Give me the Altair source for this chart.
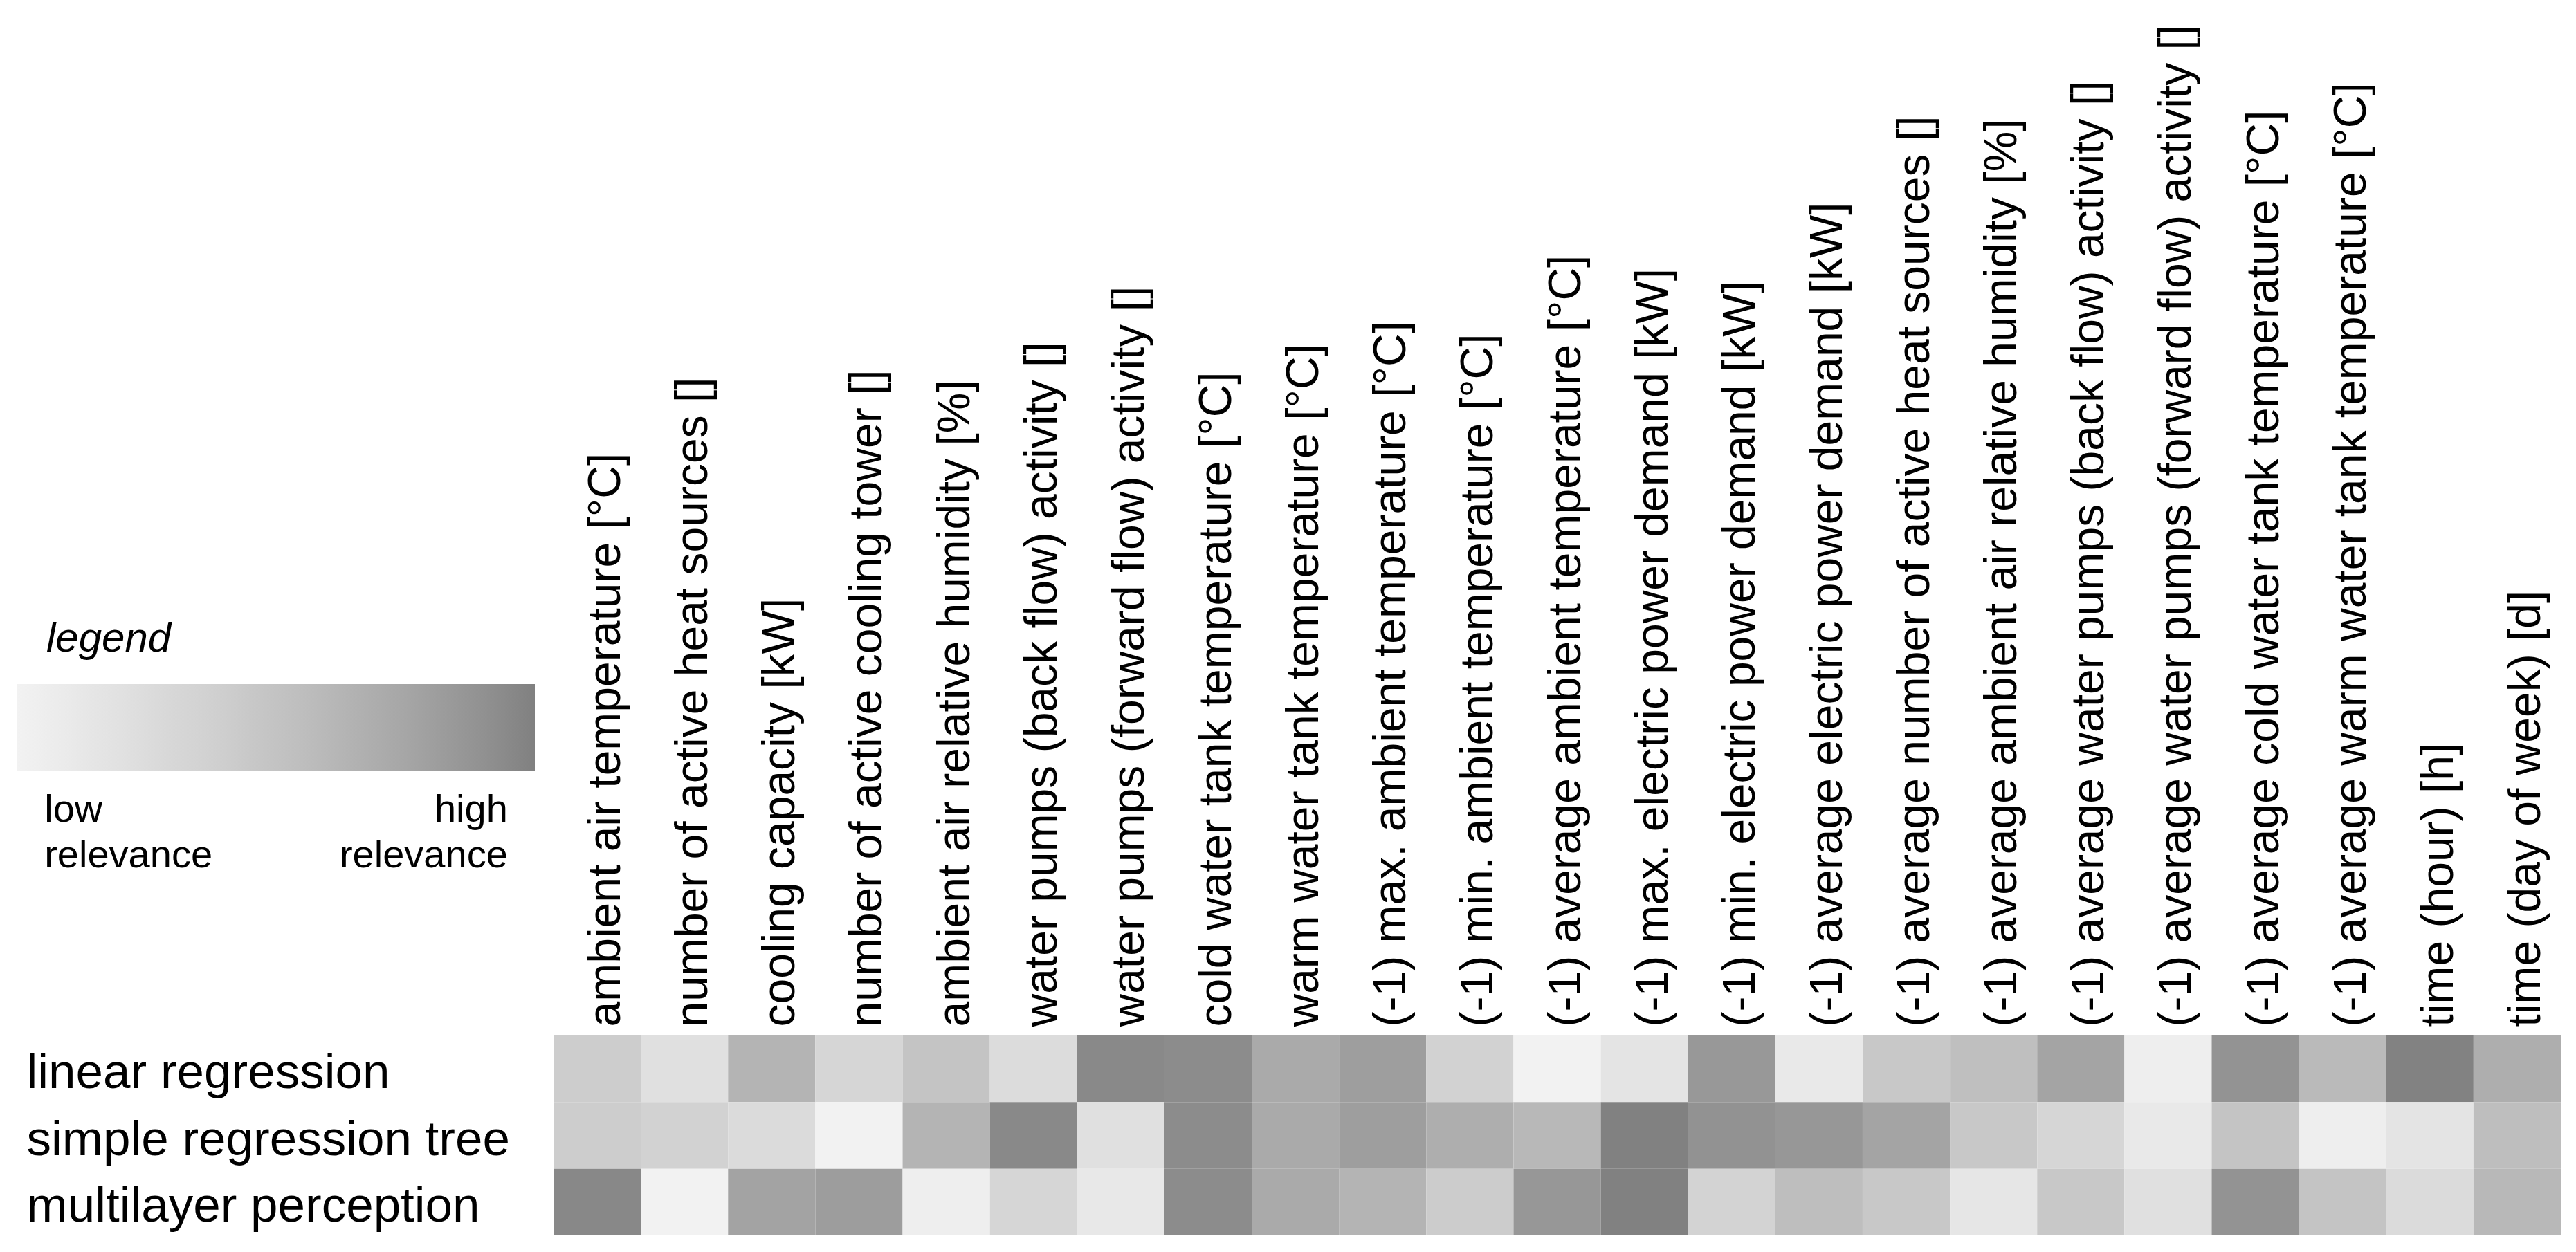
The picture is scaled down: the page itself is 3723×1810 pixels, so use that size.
import altair as alt
import pandas as pd

features = [
    "ambient air temperature [°C]",
    "number of active heat sources []",
    "cooling capacity [kW]",
    "number of active cooling tower []",
    "ambient air relative humidity [%]",
    "water pumps (back flow) activity []",
    "water pumps (forward flow) activity []",
    "cold water tank temperature [°C]",
    "warm water tank temperature [°C]",
    "(-1) max. ambient temperature [°C]",
    "(-1) min. ambient temperature [°C]",
    "(-1) average ambient temperature [°C]",
    "(-1) max. electric power demand [kW]",
    "(-1) min. electric power demand [kW]",
    "(-1) average electric power demand [kW]",
    "(-1) average number of active heat sources []",
    "(-1) average ambient air relative humidity [%]",
    "(-1) average water pumps (back flow) activity []",
    "(-1) average water pumps (forward flow) activity []",
    "(-1) average cold water tank temperature [°C]",
    "(-1) average warm water tank temperature [°C]",
    "time (hour) [h]",
    "time (day of week) [d]",
]

models = ["linear regression", "simple regression tree", "multilayer perception"]

linear_regression = [0.406, 0.207, 0.635, 0.314, 0.492, 0.251, 0.947, 0.929, 0.717, 0.807,
                     0.356, 0.000, 0.163, 0.850, 0.106, 0.454, 0.538, 0.763, 0.048, 0.884,
                     0.583, 0.989, 0.685]
regression_tree = [0.406, 0.356, 0.262, 0.000, 0.635, 0.947, 0.207, 0.929, 0.717, 0.807,
                   0.685, 0.601, 0.994, 0.890, 0.857, 0.763, 0.454, 0.314, 0.106, 0.492,
                   0.048, 0.163, 0.547]
multilayer_perceptron = [0.953, 0.000, 0.770, 0.815, 0.048, 0.314, 0.118, 0.929, 0.717, 0.635,
                         0.416, 0.857, 0.994, 0.345, 0.547, 0.454, 0.140, 0.454, 0.207, 0.884,
                         0.492, 0.262, 0.601]

rows = []
for model, vals in zip(models, [linear_regression, regression_tree, multilayer_perceptron]):
    for f, v in zip(features, vals):
        rows.append({"model": model, "feature": f, "relevance": v})
df = pd.DataFrame(rows)

FONT = "Liberation Sans, Arial, Helvetica, sans-serif"
LEAD = "\u200b\u2002\u2009"
TRAIL = "\u2009\u2002\u200b"

label_expr = (
    "datum.value == 0 ? ['" + LEAD + "low', '" + LEAD + "relevance'] : "
    "['high" + TRAIL + "', 'relevance" + TRAIL + "']"
)

chart = (
    alt.Chart(df)
    .mark_rect()
    .encode(
        x=alt.X(
            "feature:N",
            sort=features,
            title=None,
            axis=alt.Axis(
                orient="top",
                labelAngle=270,
                labelAlign="left",
                labelBaseline="alphabetic",
                labelOffset=33,
                labelPadding=13,
                labelFontSize=66,
                labelFont=FONT,
                labelColor="#000000",
                labelLimit=3000,
                ticks=False,
                tickSize=0,
                domain=False,
                grid=False,
            ),
        ),
        y=alt.Y(
            "model:N",
            sort=models,
            title=None,
            axis=alt.Axis(
                orient="left",
                labelAlign="left",
                labelBaseline="alphabetic",
                labelOffset=28,
                labelPadding=762,
                labelFontSize=71,
                labelFont=FONT,
                labelColor="#000000",
                labelLimit=3000,
                ticks=False,
                tickSize=0,
                domain=False,
                grid=False,
            ),
        ),
        color=alt.Color(
            "relevance:Q",
            scale=alt.Scale(
                domain=[0, 1],
                range=["#f2f2f2", "#808080"],
                interpolate=alt.ScaleInterpolateParams(type="rgb", gamma=2.2),
            ),
            legend=alt.Legend(
                title=LEAD + "legend",
                titleFont=FONT,
                titleFontSize=60,
                titleFontStyle="italic",
                titleFontWeight="normal",
                titleColor="#000000",
                titlePadding=34,
                titleLimit=3000,
                orient="none",
                direction="horizontal",
                legendX=-775,
                legendY=-602,
                padding=0,
                gradientLength=748,
                gradientThickness=126,
                gradientStrokeWidth=0,
                values=[0, 1],
                labelExpr=label_expr,
                labelFont=FONT,
                labelFontSize=56,
                labelColor="#000000",
                labelOffset=29,
                labelLimit=3000,
                labelOverlap=False,
            ),
        ),
    )
    .properties(
        width=2901,
        height=289,
        autosize=alt.AutoSizeParams(type="none"),
        padding={"left": 792, "top": 1489, "right": 6, "bottom": 8},
    )
    .configure(style={"guide-label": {"lineHeight": 66}})
    .configure_view(strokeWidth=0)
)

chart.save("out.html", embed_options={"renderer": "svg", "actions": False})
